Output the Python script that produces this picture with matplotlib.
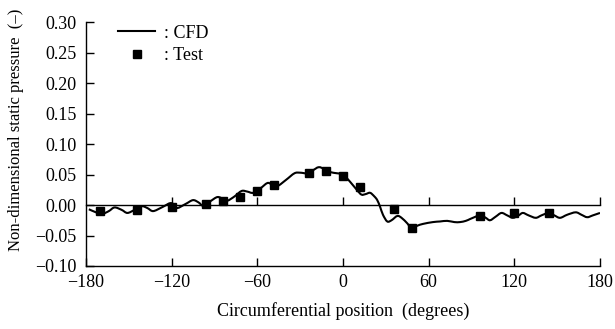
import numpy as np
import matplotlib
matplotlib.use("Agg")
import matplotlib.pyplot as plt
from matplotlib.path import Path
from matplotlib.patches import PathPatch
from matplotlib.lines import Line2D

plt.rcParams['font.family'] = ['Liberation Serif', 'DejaVu Serif']

# CFD curve (degrees, non-dimensional static pressure)
cfd_pos = [-178, -173, -169, -164, -160, -155, -151, -146, -141, -137, -133, -127,
           -121, -118, -116, -110, -105, -101, -98, -93, -88, -84, -81, -76,
           -71, -67, -63, -58, -53, -50, -46, -40, -34, -30, -25, -21,
           -17, -13, -9, -4, 0, 5, 10, 13, 16, 19, 22, 24,
           26, 28, 31, 34, 38, 41, 45, 48, 52, 56, 63, 68,
           73, 78, 82, 86, 89, 93, 96, 100, 103, 107, 111, 115,
           119, 123, 126, 130, 135, 139, 144, 148, 152, 157, 163, 167,
           171, 175, 180]
cfd_p = [-0.007, -0.012, -0.015, -0.010, -0.004, -0.008, -0.013, -0.008, -0.002, -0.005, -0.010, -0.004,
         0.003, 0.000, -0.005, 0.002, 0.008, 0.004, -0.001, 0.006, 0.013, 0.010, 0.007, 0.014,
         0.023, 0.022, 0.020, 0.027, 0.036, 0.034, 0.031, 0.041, 0.052, 0.053, 0.052, 0.057,
         0.062, 0.059, 0.054, 0.052, 0.050, 0.038, 0.024, 0.017, 0.018, 0.020, 0.014, 0.008,
         -0.003, -0.016, -0.027, -0.025, -0.018, -0.021, -0.030, -0.038, -0.034, -0.031, -0.028, -0.027,
         -0.026, -0.028, -0.028, -0.026, -0.023, -0.019, -0.016, -0.021, -0.025, -0.019, -0.013, -0.017,
         -0.021, -0.017, -0.013, -0.017, -0.021, -0.017, -0.013, -0.017, -0.021, -0.016, -0.012, -0.016,
         -0.020, -0.017, -0.013]

# test measurements
test_pos = [-170, -144, -120, -96, -84, -72, -60, -48, -24, -12, 0, 12, 36, 48, 96, 120, 144]
test_p = [-0.010, -0.008, -0.003, 0.002, 0.007, 0.013, 0.023, 0.033, 0.052, 0.056, 0.048,
          0.030, -0.007, -0.038, -0.018, -0.013, -0.013]

xticks = [-180, -120, -60, 0, 60, 120, 180]
yticks = [-0.10, -0.05, 0.00, 0.05, 0.10, 0.15, 0.20, 0.25, 0.30]


def smooth_path(xs, ys):
    # Catmull-Rom through the read points, as cubic bezier segments
    p = np.column_stack([xs, ys]).astype(float)
    p = np.vstack([p[0], p, p[-1]])
    verts = [p[1]]
    codes = [Path.MOVETO]
    for i in range(1, len(p) - 2):
        c1 = p[i] + (p[i + 1] - p[i - 1]) / 6
        c2 = p[i + 1] - (p[i + 2] - p[i]) / 6
        verts += [c1, c2, p[i + 1]]
        codes += [Path.CURVE4] * 3
    return Path(verts, codes)


fig = plt.figure(figsize=(6.15, 3.29), dpi=100)
ax = fig.add_axes([0.1398, 0.1915, 0.8358, 0.7415])

ax.add_patch(PathPatch(smooth_path(cfd_pos, cfd_p), facecolor='none',
                       edgecolor='black', lw=1.5))
ax.plot(test_pos, test_p, 's', color='black', ms=5.5)

ax.set_xlim(-180, 180)
ax.set_ylim(-0.10, 0.30)
ax.set_xticks(xticks)
ax.set_xticklabels(['\u2212180', '\u2212120', '\u221260', '0', '60', '120', '180'])
ax.set_yticks(yticks)
ax.set_yticklabels([('\u2212' if v < 0 else '') + f"{abs(v):.2f}" for v in yticks])

for s in ['top', 'right']:
    ax.spines[s].set_visible(False)
for s in ['left', 'bottom']:
    ax.spines[s].set_linewidth(1.0)
ax.tick_params(direction='in', length=6, width=1.0, labelsize=13)
ax.tick_params(axis='x', pad=6)
ax.tick_params(axis='y', pad=7)

# zero line with upward ticks
sec = ax.secondary_xaxis(0.25)
sec.set_xticks(xticks[1:])
sec.tick_params(direction='in', length=6, width=1.0, labelbottom=False)
sec.spines['bottom'].set_linewidth(1.0)

ax.set_xlabel('Circumferential position  (degrees)', fontsize=13, labelpad=8)
ax.set_ylabel('Non-dimensional static pressure  (\u2013)', fontsize=12)
ax.yaxis.set_label_coords(-0.12, 0.56)

handles = [Line2D([], [], color='black', lw=1.5),
           Line2D([], [], ls='none', marker='s', color='black', ms=5.5)]
ax.legend(handles, [': CFD', ': Test'], loc='upper left', bbox_to_anchor=(0.049, 1.019),
          frameon=False, fontsize=13, handlelength=2.05, handletextpad=0.5,
          labelspacing=0.3, borderaxespad=0)

fig.savefig('out.png', dpi=100)
